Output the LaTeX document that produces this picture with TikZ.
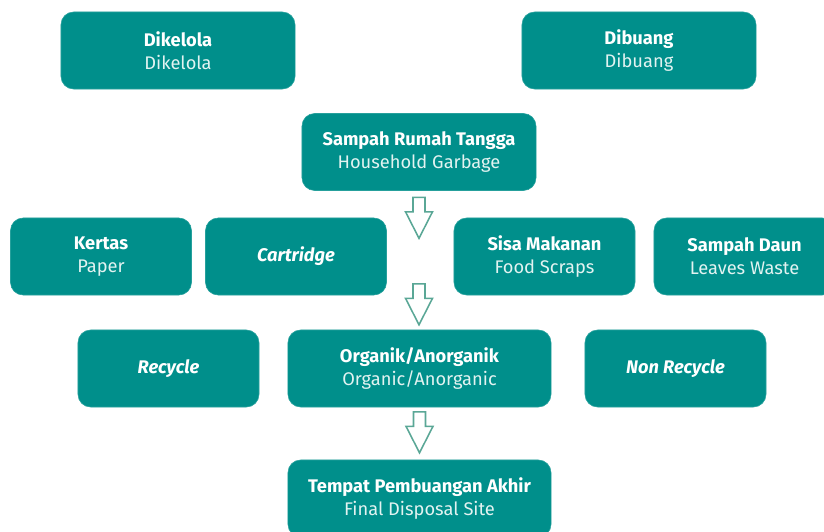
\documentclass[tikz,border=0pt]{standalone}
\usepackage{fontspec}
\setmainfont{Fira Sans}
\usepackage{tikz}
\usetikzlibrary{calc}
\definecolor{WasteTeal}{HTML}{008F8B}
\definecolor{WasteLine}{HTML}{5AA796}
\definecolor{WasteSub}{HTML}{E2F3F1}

\newcommand{\hollowdown}[1]{%
  \draw[hollow] ($(#1)+(-6,0)$) -- ++(0,14.5) -- ++(-7.5,0) -- ($(#1)+(0,41)$)
    -- ($(#1)+(13.5,14.5)$) -- ++(-7.5,0) -- ($(#1)+(6,0)$) -- cycle;}

\begin{document}
\begin{tikzpicture}[x=0.025cm, y=-0.025cm, font=\fontsize{13}{16.5}\selectfont,
  box/.style={fill=WasteTeal, draw=WasteTeal!85!white, rounded corners=9pt, minimum height=1.925cm,
              minimum width=5.85cm, align=center, text=white, inner sep=0pt},
  small/.style={box, minimum width=4.525cm},
  wide/.style={box, minimum width=6.575cm},
  hollow/.style={draw=WasteLine, fill=white, line width=1.1pt, line join=miter}]
\useasboundingbox (0,0) rectangle (824,532);

\newcommand{\two}[2]{\textbf{#1}\\\color{WasteSub}#2}

\node[box] (kelola) at (178,50.5) {\two{Dikelola}{Dikelola}};
\node[box] (buang) at (639,50.5) {\two{Dibuang}{Dibuang}};
\node[box] (rumah) at (419,152) {\two{Sampah Rumah Tangga}{Household Garbage}};

\node[small] (kertas) at (101,256.5) {\two{Kertas}{Paper}};
\node[small] (cartridge) at (296,256.5) {\textbf{\itshape Cartridge}};
\node[small] (sisa) at (544.5,256.5) {\two{Sisa Makanan}{Food Scraps}};
\node[small] (daun) at (744.5,256.5) {\two{Sampah Daun}{Leaves Waste}};

\node[small] (recycle) at (168.5,368.5) {\textbf{\itshape Recycle}};
\node[wide] (organik) at (419.5,368.5) {\two{Organik/Anorganik}{Organic/Anorganic}};
\node[small] (nonrec) at (675.5,368.5) {\textbf{\itshape Non Recycle}};

\node[wide] (akhir) at (419.5,498.5) {\two{Tempat Pembuangan Akhir}{Final Disposal Site}};

\coordinate (a1) at ($(rumah.south)+(0,6.5)$);
\coordinate (a2) at ($(a1)+(0,86.5)$);
\coordinate (a3) at ($(organik.south)+(0,4.5)$);
\hollowdown{a1}
\hollowdown{a2}
\hollowdown{a3}
\end{tikzpicture}
\end{document}
